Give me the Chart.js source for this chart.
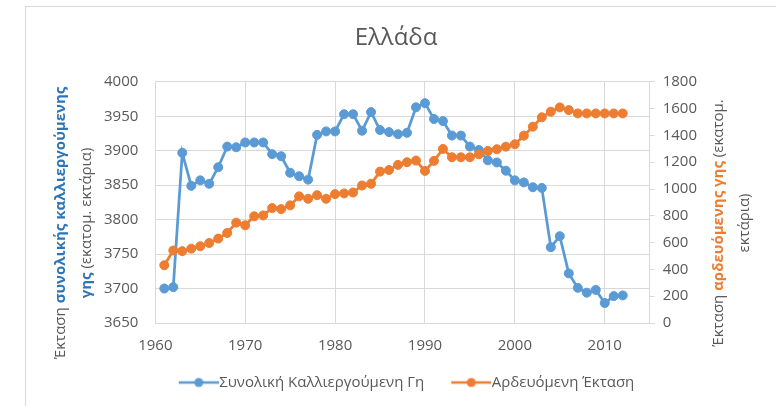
<!DOCTYPE html>
<html>
<head>
<meta charset="utf-8">
<script src="https://cdn.jsdelivr.net/npm/chart.js@4/dist/chart.umd.min.js"></script>
<style>
  body { margin: 0; background: #fff; }
  #wrap { width: 776px; height: 406px; position: relative; }
</style>
</head>
<body>
<div id="wrap"><canvas id="chart"></canvas></div>
<script>
const years = [1961, 1962, 1963, 1964, 1965, 1966, 1967, 1968, 1969, 1970,
    1971, 1972, 1973, 1974, 1975, 1976, 1977, 1978, 1979, 1980,
    1981, 1982, 1983, 1984, 1985, 1986, 1987, 1988, 1989, 1990,
    1991, 1992, 1993, 1994, 1995, 1996, 1997, 1998, 1999, 2000,
    2001, 2002, 2003, 2004, 2005, 2006, 2007, 2008, 2009, 2010,
    2011, 2012];

// total cultivated land (thousand ha, left axis)
const cultivated = [3700, 3702, 3897, 3849, 3857, 3852, 3876, 3906, 3905, 3912,
    3912, 3912, 3895, 3892, 3868, 3863, 3858, 3923, 3928, 3928,
    3953, 3953, 3929, 3956, 3930, 3927, 3924, 3926, 3963, 3969,
    3946, 3943, 3922, 3922, 3906, 3901, 3886, 3883, 3871, 3857,
    3854, 3847, 3846, 3760, 3776, 3722, 3701, 3694, 3698, 3679,
    3689, 3690];

// irrigated area (right axis)
const irrigated = [431, 541, 536, 555, 573, 597, 630, 672, 749, 729,
    796, 803, 858, 850, 878, 945, 927, 954, 927, 962,
    967, 974, 1026, 1039, 1130, 1142, 1180, 1200, 1212, 1135,
    1210, 1299, 1237, 1237, 1237, 1259, 1284, 1297, 1316, 1334,
    1398, 1465, 1535, 1577, 1609, 1589, 1564, 1564, 1564, 1564,
    1564, 1564];

const seriesNames = ['Συνολική Καλλιεργούμενη Γη', 'Αρδευόμενη Έκταση'];
const xTicks = [1960, 1970, 1980, 1990, 2000, 2010];

const BLUE = '#5B9BD5';
const ORANGE = '#ED7D31';
const TEXT = '#595959';
const GRID = '#D9D9D9';
const FONT = "'Open Sans', 'Noto Sans', sans-serif";

// legend icon: line with a dot, pushed to the right end of a wide box
function legendIcon(color) {
    const c = document.createElement('canvas');
    c.width = 68;
    c.height = 12;
    const g = c.getContext('2d');
    g.strokeStyle = color;
    g.lineWidth = 2.5;
    g.beginPath();
    g.moveTo(28, 6);
    g.lineTo(68, 6);
    g.stroke();
    g.fillStyle = color;
    g.beginPath();
    g.arc(48, 6, 4.5, 0, Math.PI * 2);
    g.fill();
    return c;
}

// axis titles with coloured words, drawn rotated
function drawRuns(ctx, runs, cx, cy) {
    ctx.save();
    ctx.translate(cx, cy);
    ctx.rotate(-Math.PI / 2);
    ctx.textBaseline = 'middle';
    ctx.textAlign = 'left';
    let total = 0;
    runs.forEach(r => {
        ctx.font = (r.bold ? 'bold ' : '') + '15px ' + FONT;
        r.w = ctx.measureText(r.text).width;
        total += r.w;
    });
    let x = -total / 2;
    runs.forEach(r => {
        ctx.font = (r.bold ? 'bold ' : '') + '15px ' + FONT;
        ctx.fillStyle = r.color;
        ctx.fillText(r.text, x, 0);
        x += r.w;
    });
    ctx.restore();
}

const extras = {
    id: 'extras',
    beforeDraw(chart) {
        const ctx = chart.ctx;
        ctx.save();
        ctx.strokeStyle = GRID;
        ctx.lineWidth = 1;
        ctx.strokeRect(25.5, 6.5, 900, 600);
        ctx.restore();
    },
    afterDraw(chart) {
        const ctx = chart.ctx;
        const cy = 223;
        drawRuns(ctx, [
            {text: 'Έκταση ', color: TEXT},
            {text: 'συνολικής καλλιεργούμενης', color: '#2E75B6', bold: true}
        ], 61, cy);
        drawRuns(ctx, [
            {text: 'γης', color: '#2E75B6', bold: true},
            {text: ' (εκατομ. εκτάρια)', color: TEXT}
        ], 87, cy);
        drawRuns(ctx, [
            {text: 'Έκταση ', color: TEXT},
            {text: 'αρδευόμενης γης', color: ORANGE, bold: true},
            {text: ' (εκατομ.', color: TEXT}
        ], 719, cy);
        drawRuns(ctx, [
            {text: 'εκτάρια)', color: TEXT}
        ], 745, cy);
    }
};

const ctx = document.getElementById('chart');

const chart = new Chart(ctx, {
    type: 'line',
    data: {
        datasets: [{
            label: seriesNames[0],
            data: years.map((y, i) => ({x: y, y: cultivated[i]})),
            borderColor: BLUE,
            backgroundColor: BLUE,
            borderWidth: 2.75,
            pointRadius: 4.5,
            pointBorderWidth: 1,
            pointHoverRadius: 4.5,
            yAxisID: 'y',
            order: 2
        }, {
            label: seriesNames[1],
            data: years.map((y, i) => ({x: y, y: irrigated[i]})),
            borderColor: ORANGE,
            backgroundColor: ORANGE,
            borderWidth: 2.75,
            pointRadius: 4.5,
            pointBorderWidth: 1,
            pointHoverRadius: 4.5,
            yAxisID: 'y1',
            order: 1
        }]
    },
    options: {
        responsive: true,
        maintainAspectRatio: false,
        animation: false,
        layout: {
            padding: {left: 87, right: 71, top: 0, bottom: 6}
        },
        plugins: {
            title: {
                display: true,
                text: 'Ελλάδα',
                color: TEXT,
                font: {family: FONT, size: 24, weight: 'normal'},
                padding: {top: 24, bottom: 29}
            },
            legend: {
                position: 'bottom',
                labels: {
                    color: TEXT,
                    font: {family: FONT, size: 15},
                    usePointStyle: true,
                    pointStyleWidth: 54,
                    padding: 6,
                    generateLabels(chart) {
                        return chart.data.datasets.map((ds, i) => ({
                            text: ds.label,
                            fontColor: TEXT,
                            pointStyle: legendIcon(ds.borderColor),
                            lineWidth: 0,
                            strokeStyle: 'transparent',
                            fillStyle: 'transparent',
                            datasetIndex: i
                        }));
                    }
                }
            },
            tooltip: {enabled: false}
        },
        scales: {
            x: {
                type: 'linear',
                min: 1960,
                max: 2015,
                afterBuildTicks(scale) {
                    scale.ticks = xTicks.map(v => ({value: v}));
                },
                grid: {color: GRID, drawTicks: false},
                border: {display: false},
                ticks: {
                    color: TEXT,
                    font: {family: FONT, size: 15},
                    padding: 14,
                    callback: v => String(v)
                }
            },
            y: {
                position: 'left',
                min: 3650,
                max: 4000,
                grid: {color: GRID, drawTicks: false},
                border: {display: true, color: GRID},
                ticks: {
                    stepSize: 50,
                    color: TEXT,
                    font: {family: FONT, size: 15},
                    padding: 17,
                    callback: v => String(v)
                }
            },
            y1: {
                position: 'right',
                min: 0,
                max: 1800,
                grid: {drawOnChartArea: false, drawTicks: true, tickLength: 5, tickColor: GRID},
                border: {display: true, color: GRID},
                ticks: {
                    stepSize: 200,
                    color: TEXT,
                    font: {family: FONT, size: 15},
                    padding: 8,
                    callback: v => String(v)
                }
            }
        }
    },
    plugins: [extras]
});
</script>
</body>
</html>
